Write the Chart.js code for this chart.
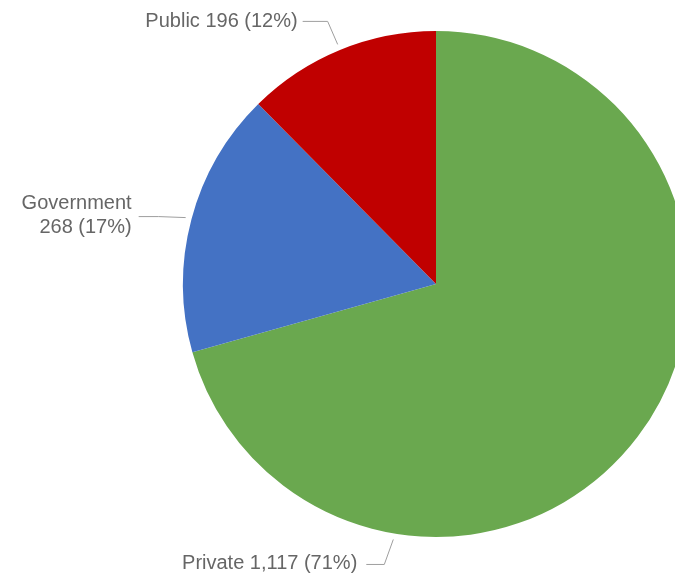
<!DOCTYPE html>
<html>
<head>
<meta charset="utf-8">
<script src="https://cdn.jsdelivr.net/npm/chart.js@4.4.1/dist/chart.umd.min.js"></script>
<style>
	html, body { margin: 0; padding: 0; background: #fff; overflow: hidden; width: 675px; height: 574px; }
	#holder { position: absolute; left: 0; top: 0; width: 872px; height: 574px; }
</style>
</head>
<body>
<div id="holder"><canvas id="chart"></canvas></div>
<script>
'use strict';

const categories = ['Private', 'Government', 'Public'];
const values = [1117, 268, 196];
const colors = ['#6aa84f', '#4472c4', '#c00000'];

// where each label sits: anchor fraction along the slice, offsets from the anchor point
const labelLayout = [
	{frac: 0.745, elbow: [-9, 25], end: [-27, 25], text: [-36, 24], lines: 1},
	{frac: 0.5, elbow: [-27, -1], end: [-47, -1], text: [-54, -2], lines: 2},
	{frac: 0.5, elbow: [-10, -23], end: [-35, -23], text: [-40, -23], lines: 1}
];

const total = values.reduce((a, b) => a + b, 0);

const labelText = function(i) {
	const pct = Math.round(values[i] / total * 100) + '%';
	return [categories[i], values[i].toLocaleString('en-US') + ' (' + pct + ')'];
};

const leaderLabels = {
	id: 'leaderLabels',
	afterDraw(chart) {
		const ctx = chart.ctx;
		const meta = chart.getDatasetMeta(0);
		ctx.save();
		meta.data.forEach((arc, i) => {
			const lay = labelLayout[i];
			const a = arc.startAngle + lay.frac * (arc.endAngle - arc.startAngle);
			const r = arc.outerRadius + 6;
			const ax = arc.x + r * Math.cos(a);
			const ay = arc.y + r * Math.sin(a);

			ctx.strokeStyle = '#9e9e9e';
			ctx.lineWidth = 1;
			ctx.beginPath();
			ctx.moveTo(ax, ay);
			ctx.lineTo(ax + lay.elbow[0], ay + lay.elbow[1]);
			ctx.lineTo(ax + lay.end[0], ay + lay.end[1]);
			ctx.stroke();

			ctx.fillStyle = '#666';
			ctx.font = '20px "Liberation Sans", Arial, sans-serif';
			ctx.textAlign = 'right';
			ctx.textBaseline = 'middle';
			const parts = labelText(i);
			const tx = ax + lay.text[0];
			const ty = ay + lay.text[1];
			if (lay.lines == 2) {
				ctx.fillText(parts[0], tx, ty - 12);
				ctx.fillText(parts[1], tx, ty + 12);
			} else {
				ctx.fillText(parts[0] + ' ' + parts[1], tx, ty);
			}
		});
		ctx.restore();
	}
};

new Chart(document.getElementById('chart'), {
	type: 'pie',
	data: {
		labels: categories,
		datasets: [{
			data: values,
			backgroundColor: colors,
			borderWidth: 0,
			hoverBorderWidth: 0,
			hoverOffset: 0,
			offset: 0
		}]
	},
	options: {
		responsive: true,
		maintainAspectRatio: false,
		animation: false,
		layout: {
			padding: {top: 31, bottom: 37, left: 183, right: 183}
		},
		plugins: {
			legend: {display: false},
			tooltip: {enabled: false}
		}
	},
	plugins: [leaderLabels]
});
</script>
</body>
</html>
